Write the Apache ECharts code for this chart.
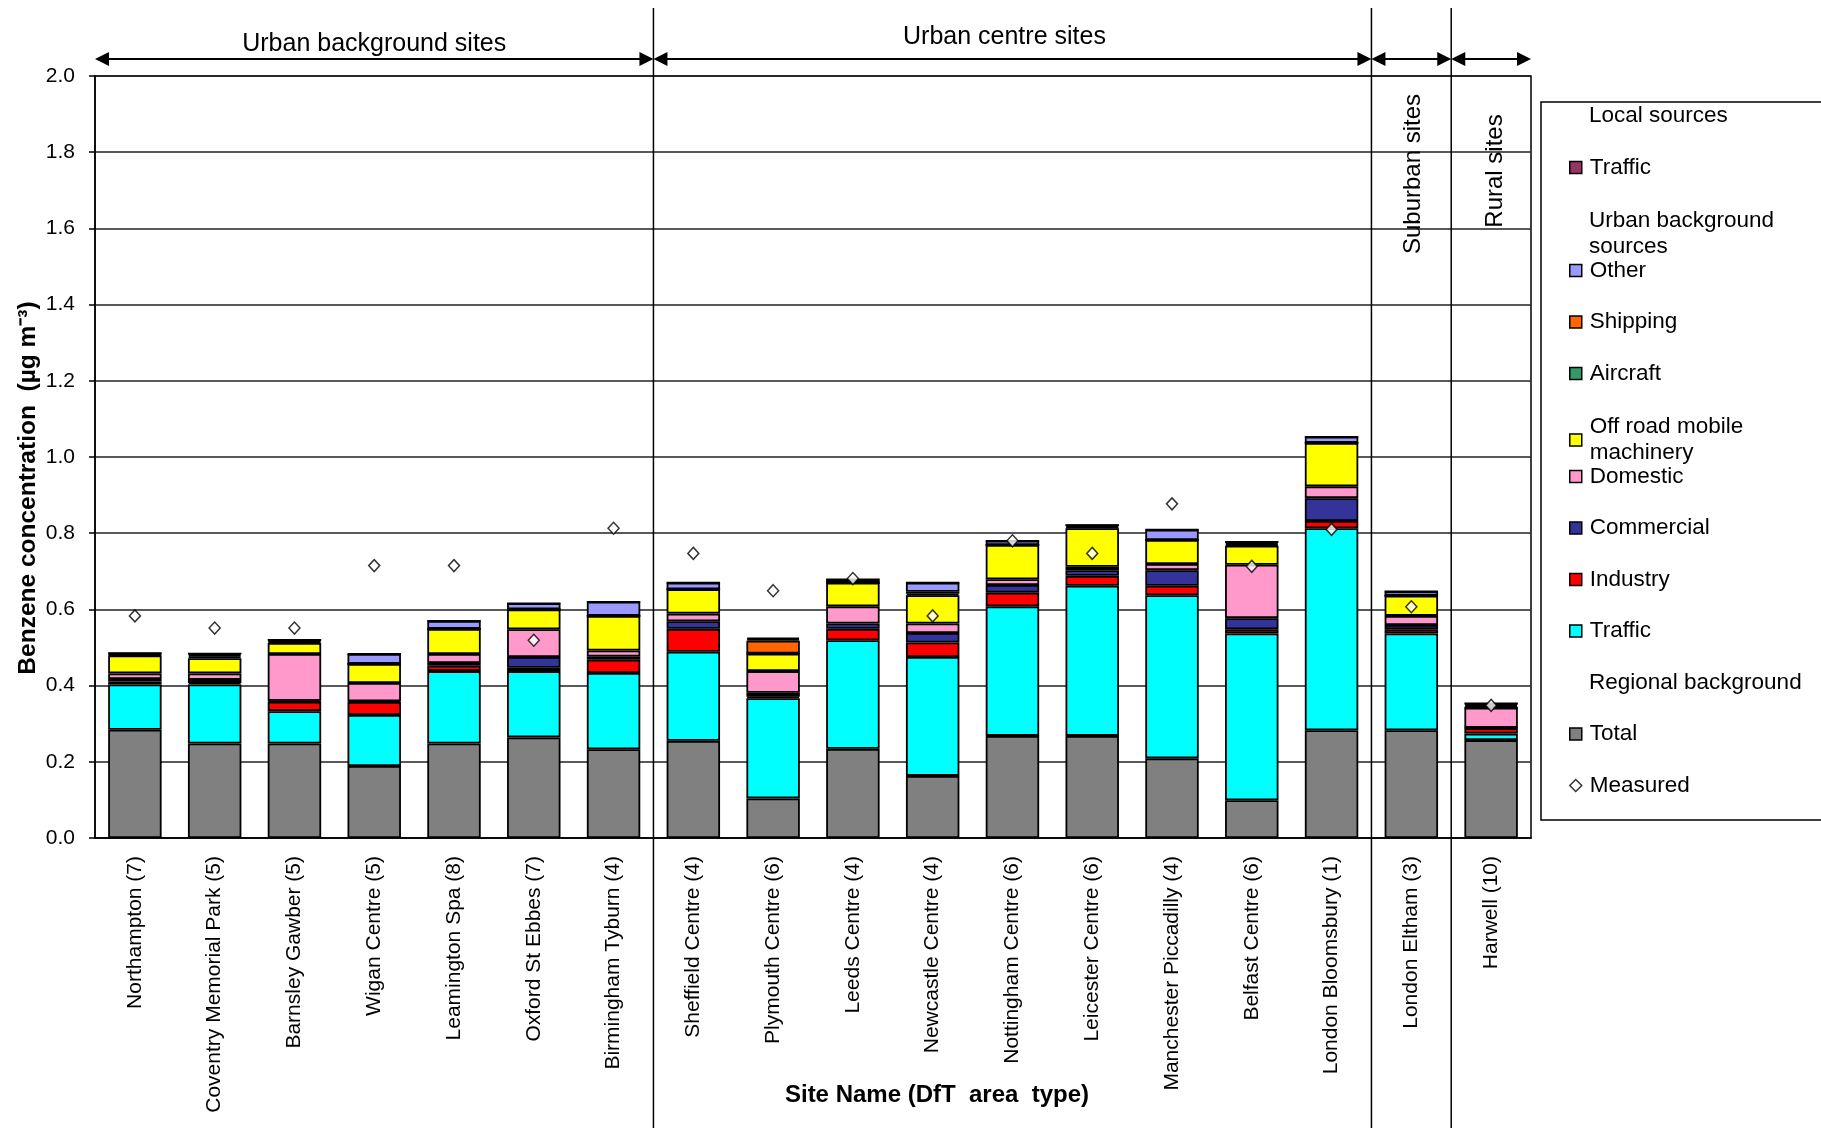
<!DOCTYPE html>
<html>
<head>
<meta charset="utf-8">
<title>Benzene source apportionment by site</title>
<script src="https://cdn.jsdelivr.net/npm/echarts@6/dist/echarts.min.js"></script>
<style>
html, body { margin: 0; padding: 0; background: #fff; }
#main { width: 1821px; height: 1128px; }
</style>
</head>
<body>
<div id="main"></div>
<script>
// site names with DfT area type
var sites = ['Northampton (7)', 'Coventry Memorial Park (5)', 'Barnsley Gawber (5)', 'Wigan Centre (5)',
    'Leamington Spa (8)', 'Oxford St Ebbes (7)', 'Birmingham Tyburn (4)', 'Sheffield Centre (4)',
    'Plymouth Centre (6)', 'Leeds Centre (4)', 'Newcastle Centre (4)', 'Nottingham Centre (6)',
    'Leicester Centre (6)', 'Manchester Piccadilly (4)', 'Belfast Centre (6)', 'London Bloomsbury (1)',
    'London Eltham (3)', 'Harwell (10)'];

// stacked contributions, ug m-3 (bottom to top)
var regionalTotal = [0.284, 0.248, 0.248, 0.189, 0.248, 0.264, 0.233, 0.255, 0.104, 0.234, 0.163, 0.268, 0.268, 0.209, 0.099, 0.283, 0.283, 0.257];
var urbanTraffic  = [0.119, 0.155, 0.085, 0.134, 0.190, 0.174, 0.200, 0.234, 0.263, 0.285, 0.312, 0.340, 0.394, 0.428, 0.438, 0.530, 0.254, 0.017];
var industry      = [0.008, 0.004, 0.025, 0.034, 0.014, 0.009, 0.035, 0.060, 0.004, 0.030, 0.038, 0.036, 0.026, 0.025, 0.011, 0.019, 0.011, 0.014];
var commercial    = [0.006, 0.008, 0.002, 0.002, 0.007, 0.028, 0.008, 0.020, 0.010, 0.014, 0.025, 0.020, 0.015, 0.041, 0.029, 0.060, 0.011, 0.001];
var domestic      = [0.015, 0.017, 0.123, 0.048, 0.024, 0.073, 0.016, 0.020, 0.057, 0.045, 0.025, 0.015, 0.009, 0.016, 0.140, 0.031, 0.024, 0.053];
var offRoad       = [0.047, 0.040, 0.029, 0.050, 0.066, 0.052, 0.091, 0.064, 0.046, 0.062, 0.074, 0.090, 0.101, 0.063, 0.050, 0.114, 0.053, 0];
var aircraft      = [0.002, 0.004, 0.003, 0, 0, 0, 0, 0, 0, 0, 0.004, 0, 0.003, 0, 0.004, 0, 0, 0.004];
var shipping      = [0.002, 0.004, 0.003, 0, 0, 0, 0, 0, 0.034, 0, 0.005, 0, 0.004, 0, 0.004, 0, 0, 0.004];
var other         = [0.002, 0.004, 0.002, 0.026, 0.021, 0.016, 0.037, 0.017, 0.004, 0.009, 0.024, 0.011, 0.001, 0.027, 0.002, 0.016, 0.011, 0.003];
var localTraffic  = [0, 0, 0, 0, 0, 0, 0, 0, 0.004, 0, 0, 0, 0, 0, 0, 0, 0, 0];
var measured      = [0.583, 0.551, 0.551, 0.715, 0.715, 0.519, 0.813, 0.747, 0.649, 0.681, 0.583, 0.780, 0.747, 0.877, 0.713, 0.810, 0.607, 0.348];

// site groups: [first index, end index, label]
var groups = [[0, 7, 'Urban background sites'], [7, 16, 'Urban centre sites'], [16, 17, 'Suburban sites'], [17, 18, 'Rural sites']];

var FONT = "'Liberation Sans', Arial, sans-serif";

var myChart = echarts.init(document.getElementById('main'));

function barSeries(name, color, data) {
    return {
        name: name,
        type: 'bar',
        stack: 'sources',
        barWidth: '67%',
        itemStyle: { color: color, borderColor: '#000', borderWidth: 1.8 },
        data: data
    };
}

var series = [
    barSeries('Total', '#808080', regionalTotal),
    barSeries('Urban traffic', '#00FFFF', urbanTraffic),
    barSeries('Industry', '#FF0000', industry),
    barSeries('Commercial', '#333399', commercial),
    barSeries('Domestic', '#FF99CC', domestic),
    barSeries('Off road mobile machinery', '#FFFF00', offRoad),
    barSeries('Aircraft', '#339966', aircraft),
    barSeries('Shipping', '#FF6600', shipping),
    barSeries('Other', '#9999FF', other),
    barSeries('Local traffic', '#993366', localTraffic),
    {
        name: 'Measured',
        type: 'scatter',
        symbol: 'diamond',
        symbolSize: [11, 12],
        z: 5,
        itemStyle: { color: '#fff', borderColor: '#000', borderWidth: 1.5 },
        data: measured
    },
    // heading rows of the legend
    { name: 'Local sources', type: 'scatter', data: [] },
    { name: 'Urban background sources', type: 'scatter', data: [] },
    { name: 'Regional background', type: 'scatter', data: [] }
];

// legend rows top to bottom, one legend each so the spacing stays even
var legendRows = [
    { name: 'Local sources', head: true },
    { name: 'Local traffic', label: 'Traffic' },
    { name: 'Urban background sources', head: true, label: 'Urban background\nsources' },
    { name: 'Other' },
    { name: 'Shipping' },
    { name: 'Aircraft' },
    { name: 'Off road mobile machinery', label: 'Off road mobile\nmachinery' },
    { name: 'Domestic' },
    { name: 'Commercial' },
    { name: 'Industry' },
    { name: 'Urban traffic', label: 'Traffic' },
    { name: 'Regional background', head: true },
    { name: 'Total' },
    { name: 'Measured', icon: 'diamond' }
];

var LH = 26;
var legends = legendRows.map(function (r, i) {
    var cy = 116 + 51.5 * i;
    var label = r.label || r.name;
    var two = label.indexOf('\n') >= 0;
    var item;
    if (r.head) {
        item = { name: r.name, icon: 'rect', itemStyle: { color: 'rgba(0,0,0,0)', borderWidth: 0 } };
    } else if (r.icon) {
        item = { name: r.name, icon: r.icon, itemStyle: { color: '#fff', borderColor: '#000', borderWidth: 1.5 } };
    } else {
        item = { name: r.name, icon: 'rect', itemStyle: { borderColor: '#000', borderWidth: 1.5 } };
    }
    return {
        orient: 'vertical',
        left: 1569,
        top: two ? cy - 1.5 * LH + 15 : cy - 0.5 * LH,
        padding: 0,
        itemWidth: 12,
        itemHeight: 12,
        selectedMode: false,
        data: [item],
        formatter: function () { return label; },
        textStyle: {
            fontFamily: FONT, fontSize: 22.5, color: '#000', lineHeight: LH,
            padding: two ? [LH, 0, 0, 3] : [0, 0, 0, 3]
        }
    };
});

var option = {
    animation: false,
    backgroundColor: '#fff',
    textStyle: { fontFamily: FONT },
    grid: {
        left: 95, right: 290, top: 76, bottom: 290,
        outerBoundsMode: 'none',
        show: true, borderColor: '#000', borderWidth: 1.5
    },
    legend: legends,
    xAxis: {
        type: 'category',
        data: sites,
        name: 'Site Name (DfT  area  type)',
        nameLocation: 'middle',
        nameGap: 245,
        nameMoveOverlap: false,
        nameTextStyle: { fontFamily: FONT, fontSize: 24, fontWeight: 'bold', color: '#000', padding: [0, 0, 0, 248] },
        axisLine: { lineStyle: { color: '#000', width: 1.5 } },
        axisTick: { length: 6, lineStyle: { color: '#000', width: 1.5 } },
        axisLabel: { rotate: 90, interval: 0, margin: 18, fontFamily: FONT, fontSize: 21, color: '#000' }
    },
    yAxis: {
        type: 'value',
        min: 0,
        max: 2,
        interval: 0.2,
        name: 'Benzene concentration  (\u00b5g m\u207b\u00b3)',
        nameLocation: 'middle',
        nameGap: 54,
        nameMoveOverlap: false,
        nameTextStyle: { fontFamily: FONT, fontSize: 24.5, fontWeight: 'bold', color: '#000', padding: [0, 62, 0, 0] },
        axisLine: { show: true, lineStyle: { color: '#000', width: 1.5 } },
        axisTick: { show: true, length: 6, lineStyle: { color: '#000', width: 1.5 } },
        axisLabel: {
            margin: 20, fontFamily: FONT, fontSize: 21, color: '#000',
            formatter: function (v) { return v.toFixed(1); }
        },
        splitLine: { lineStyle: { color: '#222', width: 1.5 } }
    },
    series: series
};
myChart.setOption(option);

// group brackets above the plot, placed from the category axis
var c0 = myChart.convertToPixel({ xAxisIndex: 0 }, 0);
var c1 = myChart.convertToPixel({ xAxisIndex: 0 }, 1);
var cw = c1 - c0;
function edgeX(i) { return c0 - cw / 2 + i * cw; }

var ARROW_Y = 59;
var black = { stroke: '#000', lineWidth: 2 };
var elements = [];

groups.forEach(function (g, k) {
    var xa = edgeX(g[0]), xb = edgeX(g[1]);
    elements.push({ type: 'line', shape: { x1: xa + 10, y1: ARROW_Y, x2: xb - 10, y2: ARROW_Y }, style: black });
    elements.push({ type: 'polygon', shape: { points: [[xa, ARROW_Y], [xa + 14, ARROW_Y - 7], [xa + 14, ARROW_Y + 7]] }, style: { fill: '#000' } });
    elements.push({ type: 'polygon', shape: { points: [[xb, ARROW_Y], [xb - 14, ARROW_Y - 7], [xb - 14, ARROW_Y + 7]] }, style: { fill: '#000' } });
    if (k > 0) {
        elements.push({ type: 'line', shape: { x1: xa, y1: 8, x2: xa, y2: 1128 }, style: { stroke: '#000', lineWidth: 1.5 } });
    }
});

elements.push({
    type: 'text', x: (edgeX(0) + edgeX(7)) / 2, y: 44,
    style: { text: groups[0][2], fontFamily: FONT, fontSize: 25, fill: '#000', align: 'center', verticalAlign: 'middle' }
});
elements.push({
    type: 'text', x: (edgeX(7) + edgeX(16)) / 2 - 8, y: 37,
    style: { text: groups[1][2], fontFamily: FONT, fontSize: 25, fill: '#000', align: 'center', verticalAlign: 'middle' }
});
elements.push({
    type: 'text', x: 1413, y: 174, rotation: Math.PI / 2,
    style: { text: groups[2][2], fontFamily: FONT, fontSize: 24, fill: '#000', align: 'center', verticalAlign: 'middle' }
});
elements.push({
    type: 'text', x: 1495, y: 171, rotation: Math.PI / 2,
    style: { text: groups[3][2], fontFamily: FONT, fontSize: 24, fill: '#000', align: 'center', verticalAlign: 'middle' }
});

// legend frame
elements.push({
    type: 'rect', z: -1,
    shape: { x: 1541, y: 102, width: 300, height: 718 },
    style: { fill: '#fff', stroke: '#000', lineWidth: 1.5 }
});

myChart.setOption({ graphic: elements });
</script>
</body>
</html>
